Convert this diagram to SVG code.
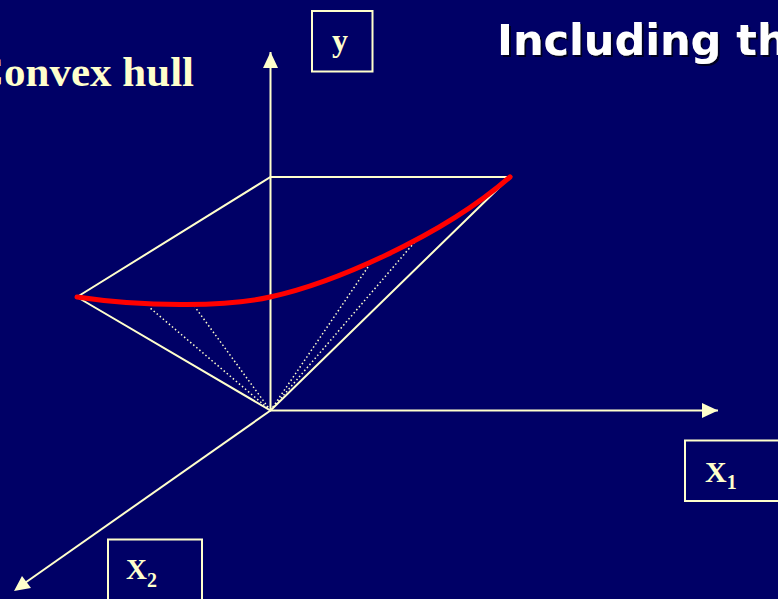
<svg xmlns="http://www.w3.org/2000/svg" width="778" height="599" viewBox="0 0 778 599">
<defs>
<style>
.ln{stroke:#FFFFCC;stroke-width:2;fill:none}
.dot{stroke:#FFFFCC;stroke-width:1.5;fill:none;stroke-dasharray:1.5 2.5}
.box{fill:none;stroke:#FFFFCC;stroke-width:2}
.lbl{font-family:"Liberation Serif","Times New Roman",serif;font-weight:bold;fill:#FFFFCC}
.title{font-family:"DejaVu Sans",Verdana,sans-serif;font-weight:bold;font-size:43px}
</style>
<filter id="shadow" x="-5%" y="-20%" width="110%" height="140%">
<feDropShadow dx="2" dy="2" stdDeviation="0" flood-color="#000022" flood-opacity="1"/>
</filter>
</defs>
<rect width="778" height="599" fill="#000066"/>
<g id="title">
<text x="497" y="55" class="title" fill="#FFFFFF" filter="url(#shadow)">Including th</text>
</g>
<g id="convex-hull-label">
<text x="-27" y="86" class="lbl" font-size="43">Convex hull</text>
</g>
<g id="connectors">
<line x1="270.5" y1="410.5" x2="270.5" y2="52" class="ln"/>
<path d="M270.5,52 L263,68 L278,68 Z" fill="#FFFFCC"/>
<line x1="270.5" y1="410.5" x2="718" y2="410.5" class="ln"/>
<path d="M718,410.5 L702,403 L702,418 Z" fill="#FFFFCC"/>
<line x1="270.5" y1="410.5" x2="22" y2="585" class="ln"/>
<path d="M14,591 L22,576 L31,588 Z" fill="#FFFFCC"/>
<polyline points="77,297 270.5,177 510,177 270.5,410.5 77,297" class="ln"/>
<line x1="270.5" y1="410.5" x2="149" y2="307" class="dot"/>
<line x1="270.5" y1="410.5" x2="195" y2="307" class="dot"/>
<line x1="270.5" y1="410.5" x2="370" y2="264" class="dot"/>
<line x1="270.5" y1="410.5" x2="419" y2="237" class="dot"/>
<path d="M77,297 C150,308 230,306 270,297 C330,284 440,238 510,177" fill="none" stroke="#FF0000" stroke-width="5" stroke-linecap="round"/>
</g>
<g id="y-label">
<rect x="312" y="11" width="60.5" height="60.5" class="box"/>
<text x="340" y="51" class="lbl" font-size="32" text-anchor="middle">y</text>
</g>
<g id="x1-label">
<rect x="685" y="440.5" width="100" height="60.5" class="box"/>
<text x="705" y="482" class="lbl" font-size="30">X<tspan font-size="20" dy="7">1</tspan></text>
</g>
<g id="x2-label">
<rect x="108" y="539.5" width="94" height="70" class="box"/>
<text x="126" y="579" class="lbl" font-size="29">X<tspan font-size="20" dy="8">2</tspan></text>
</g>
</svg>
